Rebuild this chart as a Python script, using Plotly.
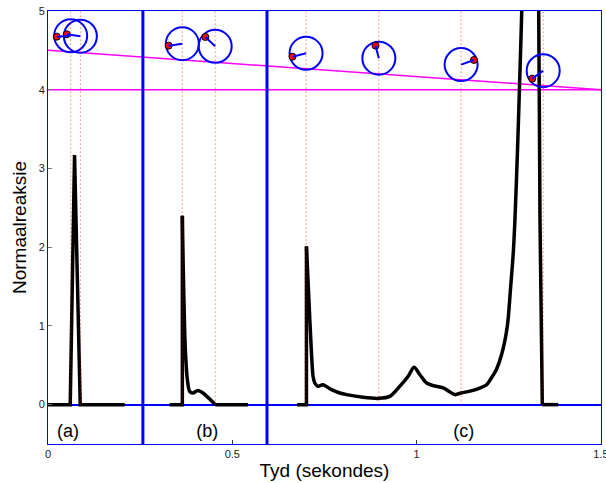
import plotly.graph_objects as go

# ---- data ----
# black normal-reaction curve, three impacts (a), (b), (c)
# (a): narrow triangular spike
a_x = [0.0, 0.0603, 0.0720, 0.0874, 0.208]
a_y = [0.0, 0.0, 3.17, 0.0, 0.0]

# (b): baseline + vertical jump, then smooth decay, then baseline
b_rise_x = [0.330, 0.3644, 0.3644]
b_rise_y = [0.0, 0.0, 2.40]
b_decay_x = [0.3644, 0.3650, 0.3687, 0.3725, 0.3780, 0.3842, 0.3932,
             0.4067, 0.4203, 0.4385, 0.4540]
b_decay_y = [2.40, 2.18, 1.333, 0.698, 0.317, 0.169, 0.148,
             0.181, 0.148, 0.072, 0.0]
b_tail_x = [0.4540, 0.5425]
b_tail_y = [0.0, 0.0]

# (c): baseline + vertical jump, smooth body (peak beyond the axis top), baseline
c_rise_x = [0.6756, 0.7010, 0.7010]
c_rise_y = [0.0, 0.0, 2.01]
c_body_x = [0.7010, 0.7080, 0.7146, 0.7190, 0.7236, 0.7326, 0.7460,
            0.7690, 0.7915, 0.8100, 0.8547, 0.8974, 0.9270, 0.9540, 0.9770, 0.9930,
            1.0087, 1.0270, 1.0450, 1.0720, 1.1040, 1.1200, 1.1530, 1.1900, 1.2000,
            1.2160, 1.2300, 1.2460, 1.2550, 1.2620, 1.2666, 1.2740, 1.2800, 1.2850,
            1.2950, 1.3100, 1.3220, 1.3310, 1.3345, 1.3408]
c_body_y = [2.01, 1.30, 0.66, 0.36, 0.275, 0.232, 0.254,
            0.19, 0.148, 0.127, 0.093, 0.080, 0.105, 0.232, 0.36, 0.474,
            0.38, 0.275, 0.241, 0.212, 0.127, 0.148, 0.181, 0.254, 0.32,
            0.444, 0.63, 1.00, 1.50, 1.925, 2.35, 3.30, 4.20, 5.00,
            7.0, 9.0, 7.5, 5.0, 2.35, 0.0]
c_tail_x = [1.3408, 1.3840]
c_tail_y = [0.0, 0.0]

# wheel snapshots
wheel_x = [0.0615, 0.0878, 0.3644, 0.4535, 0.7000, 0.8974, 1.1205, 1.3432]
wheel_y = [4.685, 4.680, 4.584, 4.552, 4.463, 4.400, 4.319, 4.242]
mark_x = [0.0239, 0.0510, 0.3272, 0.4268, 0.6630, 0.8884, 1.1553, 1.3136]
mark_y = [4.674, 4.704, 4.560, 4.670, 4.420, 4.560, 4.378, 4.141]

# incline and ground
incline_x = [0.0, 1.5]
incline_y = [4.5, 4.0]
ground_y = 4.0

# phase separators and labels
sep_x = [0.2574, 0.594]
label_x = [0.054, 0.432, 1.128]
label_y = [-0.36, -0.36, -0.36]
labels = ["(a)", "(b)", "(c)"]

x_ticks = [0, 0.5, 1, 1.5]
x_ticktext = ["0", "0.5", "1", "1.5"]
y_ticks = [0, 1, 2, 3, 4, 5]
x_range = [0, 1.5]
y_range = [-0.5, 5]

FONT = "Liberation Sans, Arial, Helvetica, sans-serif"

fig = go.Figure()

# magenta lines
fig.add_trace(go.Scatter(x=incline_x, y=incline_y, mode="lines",
                         line=dict(color="#ff00ff", width=1.5), hoverinfo="skip"))
fig.add_trace(go.Scatter(x=x_range, y=[ground_y, ground_y], mode="lines",
                         line=dict(color="#ff00ff", width=1.5), hoverinfo="skip"))

# blue separators
for s in sep_x:
    fig.add_trace(go.Scatter(x=[s, s], y=y_range, mode="lines",
                             line=dict(color="#0000ff", width=3), hoverinfo="skip"))

# black curve pieces
linear_pieces = [(a_x, a_y), (b_rise_x, b_rise_y), (b_tail_x, b_tail_y),
                 (c_rise_x, c_rise_y), (c_tail_x, c_tail_y)]
smooth_pieces = [(b_decay_x, b_decay_y), (c_body_x, c_body_y)]
for px, py in linear_pieces:
    fig.add_trace(go.Scatter(x=px, y=py, mode="lines",
                             line=dict(color="black", width=3.5), hoverinfo="skip"))
for px, py in smooth_pieces:
    fig.add_trace(go.Scatter(x=px, y=py, mode="lines",
                             line=dict(color="black", width=3.5, shape="spline", smoothing=0.8),
                             hoverinfo="skip"))

# wheels
fig.add_trace(go.Scatter(x=wheel_x, y=wheel_y, mode="markers",
                         marker=dict(symbol="circle-open", size=33,
                                     line=dict(color="#0000ff", width=2), color="#0000ff"),
                         hoverinfo="skip"))
# marks
fig.add_trace(go.Scatter(x=mark_x, y=mark_y, mode="markers",
                         marker=dict(symbol="circle", size=7, color="red",
                                     line=dict(color="black", width=1)),
                         hoverinfo="skip"))
# spokes
sx, sy = [], []
for wx, wy, mx, my in zip(wheel_x, wheel_y, mark_x, mark_y):
    sx += [wx, mx, None]
    sy += [wy, my, None]
fig.add_trace(go.Scatter(x=sx, y=sy, mode="lines",
                         line=dict(color="#0000ff", width=2), hoverinfo="skip"))

# dotted red verticals
dx, dy = [], []
for wx in wheel_x:
    dx += [wx, wx, None]
    dy += [0, 5, None]
fig.add_trace(go.Scatter(x=dx, y=dy, mode="lines",
                         line=dict(color="rgba(255,0,0,0.75)", width=1, dash="1px,3px"),
                         hoverinfo="skip"))

# phase labels
fig.add_trace(go.Scatter(x=label_x, y=label_y, mode="text", text=labels,
                         textfont=dict(family=FONT, size=18, color="black"),
                         textposition="middle center", hoverinfo="skip"))

fig.update_layout(
    width=606, height=483, autosize=False,
    margin=dict(l=48, r=5, t=11, b=39),
    paper_bgcolor="white", plot_bgcolor="white",
    showlegend=False,
    font=dict(family=FONT, color="black"),
    xaxis=dict(range=x_range, tickvals=x_ticks, ticktext=x_ticktext,
               ticks="inside", ticklen=4, tickcolor="#333333", tickwidth=1,
               ticklabeloverflow="allow",
               showline=True, linecolor="#0000ff", linewidth=1, mirror=True,
               showgrid=False, zeroline=False, automargin=False,
               tickfont=dict(family=FONT, size=11, color="#222222"),
               title=dict(text="Tyd (sekondes)", font=dict(family=FONT, size=19),
                          standoff=4)),
    yaxis=dict(range=y_range, tickvals=y_ticks,
               ticks="inside", ticklen=4, tickcolor="#777777", tickwidth=1,
               ticklabeloverflow="allow",
               showline=True, linecolor="#0000ff", linewidth=1, mirror=True,
               showgrid=False, zeroline=True, zerolinecolor="#0000ff", zerolinewidth=1.5,
               automargin=False,
               tickfont=dict(family=FONT, size=11, color="#222222"),
               title=dict(text="Normaalreaksie", font=dict(family=FONT, size=19),
                          standoff=7)),
)

fig.write_html("out.html")
